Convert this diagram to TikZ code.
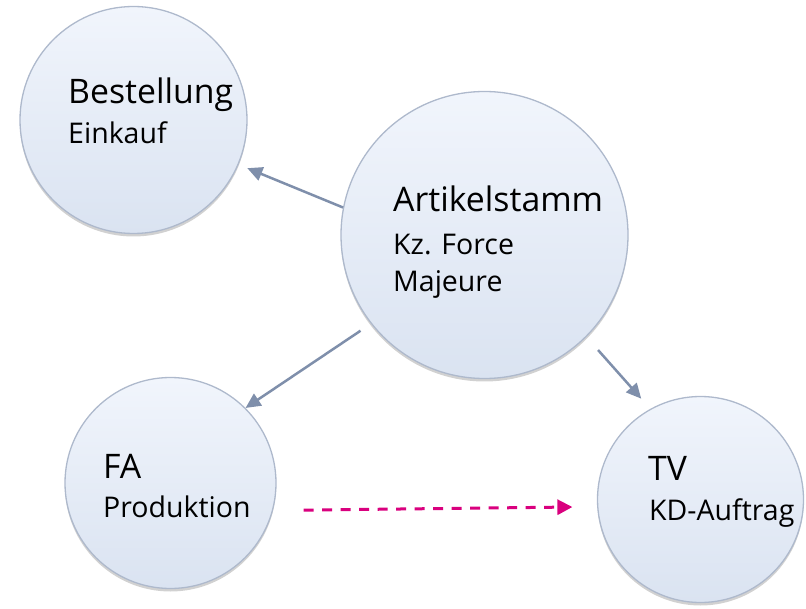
\documentclass[tikz,border=0pt]{standalone}
\usepackage{fontspec}
\setmainfont{Open Sans}
\usetikzlibrary{arrows.meta,shadows}
\definecolor{circtop}{HTML}{F1F5FC}
\definecolor{circbot}{HTML}{DAE3F1}
\definecolor{circline}{HTML}{AEB9CC}
\definecolor{arrowcol}{HTML}{7F8FAB}
\definecolor{magentacol}{HTML}{D9007E}
\tikzset{
  bubble/.style={circle, draw=circline, line width=1.3pt, top color=circtop, bottom color=circbot,
    inner sep=0pt, drop shadow={shadow xshift=0pt, shadow yshift=-3pt, opacity=0.18, fill=black}},
  bigtext/.style={anchor=base west, inner sep=0pt, font=\fontsize{33.8}{40}\selectfont},
  smalltext/.style={anchor=base west, inner sep=0pt, font=\fontsize{28.5}{34}\selectfont},
  flow/.style={draw=arrowcol, line width=2.5pt, -{Triangle[length=15pt,width=14pt]}},
  weak/.style={draw=magentacol, line width=3pt, dash pattern=on 10pt off 8.5pt, -{Triangle[length=15pt,width=15pt]}}
}
\begin{document}
\begin{tikzpicture}[x=1pt,y=-1pt]
\path[use as bounding box] (0,0) rectangle (806,609);
\node[bubble, minimum size=227pt] (best) at (133.5,120) {};
\node[bubble, minimum size=287pt] (art) at (484.5,235) {};
\node[bubble, minimum size=211pt] (fa) at (170.5,483) {};
\node[bubble, minimum size=206pt] (tv) at (700.5,499.5) {};
\node[bigtext] (t1) at (68,104) {Bestellung};
\node[smalltext] (t2) at (68,144) {Einkauf};
\node[bigtext] (t3) at (393,212) {Artikelstamm};
\node[smalltext] (t4) at (393,255) {Kz. Force};
\node[smalltext] (t5) at (393,292) {Majeure};
\node[bigtext] (t6) at (103,478) {FA};
\node[smalltext] (t7) at (103,517) {Produktion};
\node[bigtext] (t8) at (648,480) {TV};
\node[smalltext] (t9) at (649,520) {KD-Auftrag};
\draw[flow, shorten >=9.5pt] (art.169) -- (best.-23);
\draw[flow, shorten <=12.5pt] (art.218.7) -- (fa.45);
\draw[flow, shorten <=17.5pt, shorten >=13.6pt] (art.-45.2) -- (tv.119.8);
\draw[weak, shorten <=30.5pt, shorten >=24.7pt] (fa.-15.4) -- (tv.-176.0);
\end{tikzpicture}
\end{document}
